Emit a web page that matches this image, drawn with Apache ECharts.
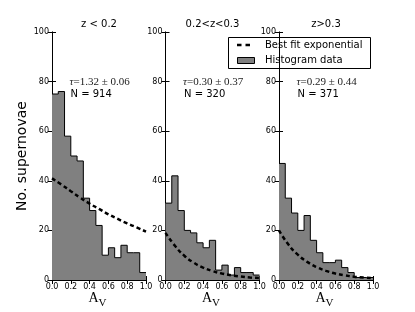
<!DOCTYPE html>
<html><head><meta charset="utf-8">
<script src="https://cdn.jsdelivr.net/npm/echarts@6/dist/echarts.min.js"></script>
<style>html,body{margin:0;padding:0;background:#fff}#c{width:415px;height:312px}</style>
</head><body><div id="c"></div>
<script>
// ---- data ----
const panelTitles = ['z < 0.2', '0.2<z<0.3', 'z>0.3'];
const tauValues = ['1.32', '0.30', '0.29'];
const tauErrors = ['0.06', '0.37', '0.44'];
const nLabels = ['N = 914', 'N = 320', 'N = 371'];
const legendNames = ['Best fit exponential', 'Histogram data'];
const binCount = 15;
const histLow  = [75, 76, 58, 50, 48, 33, 28, 22, 10, 13, 9, 14, 11, 11, 3];
const histMid  = [31, 42, 28, 20, 19, 15, 13, 16, 4, 6, 2, 5, 3, 3, 2];
const histHigh = [47, 33, 27, 20, 26, 16, 11, 7, 7, 8, 5, 3, 1, 1, 1];
const fitX     = [0, 0.1, 0.2, 0.3, 0.4, 0.5, 0.6, 0.7, 0.8, 0.9, 1.0];
const fitLow   = [41, 38.5, 35.8, 33.2, 30.8, 28.7, 26.5, 24.6, 22.8, 21.2, 19.5];
const fitMid   = [19, 13.8, 9.8, 7.0, 5.0, 3.6, 2.6, 1.9, 1.4, 1.0, 0.8];
const fitHigh  = [20, 14.3, 10.2, 7.3, 5.2, 3.7, 2.6, 1.9, 1.3, 1.0, 0.7];
const xTickLabels = ['0.0', '0.2', '0.4', '0.6', '0.8', '1.0'];
const yTickLabels = ['0', '20', '40', '60', '80', '100'];

const hists = [histLow, histMid, histHigh];
const fits = [fitLow, fitMid, fitHigh];

// ---- layout ----
const gridLefts = [52, 165.5, 279];
const gridTop = 32, gridW = 94, gridH = 248;
const SANS = 'DejaVu Sans';

function histPoints(vals) {
  const pts = vals.map((v, i) => [i / binCount, v]);
  pts.push([1, vals[vals.length - 1]]);
  return pts;
}

const grids = [], xAxes = [], yAxes = [], series = [], graphics = [];
for (let p = 0; p < 3; p++) {
  grids.push({ left: gridLefts[p], top: gridTop, width: gridW, height: gridH, containLabel: false, outerBoundsMode: 'none' });
  const axLine = { show: true, lineStyle: { color: '#000', width: 1 } };
  const tick = { show: true, inside: true, length: 4, lineStyle: { color: '#000', width: 1 } };
  xAxes.push({
    type: 'value', gridIndex: p, position: 'bottom', min: 0, max: 1, interval: 0.2,
    axisLine: axLine, axisTick: tick, splitLine: { show: false },
    axisLabel: { margin: 3, fontSize: 8, fontFamily: SANS, color: '#000',
      formatter: v => xTickLabels[Math.round(v / 0.2)] }
  });
  xAxes.push({
    type: 'value', gridIndex: p, position: 'top', min: 0, max: 1, interval: 0.2,
    axisLine: axLine, axisTick: tick, splitLine: { show: false }, axisLabel: { show: false }
  });
  yAxes.push({
    type: 'value', gridIndex: p, position: 'left', min: 0, max: 100, interval: 20,
    axisLine: { show: true, lineStyle: { color: '#555', width: 1 } }, axisTick: tick, splitLine: { show: false },
    axisLabel: { margin: 3, fontSize: 8, fontFamily: SANS, color: '#000',
      formatter: v => yTickLabels[Math.round(v / 20)] },
    name: p === 0 ? 'No. supernovae' : '', nameLocation: 'middle', nameGap: 22, nameRotate: 90,
    nameTextStyle: { fontSize: 14, fontFamily: SANS, color: '#000' }
  });
  yAxes.push({
    type: 'value', gridIndex: p, position: 'right', min: 0, max: 100, interval: 20,
    axisLine: axLine, axisTick: tick, splitLine: { show: false }, axisLabel: { show: false }
  });
  series.push({
    name: legendNames[1], type: 'line', step: 'end', xAxisIndex: 2 * p, yAxisIndex: 2 * p,
    data: histPoints(hists[p]), symbol: 'none', silent: true,
    lineStyle: { color: '#000', width: 1 }, itemStyle: { color: '#808080' },
    areaStyle: { color: '#808080', opacity: 1 }, z: 2
  });
  series.push({
    name: legendNames[0], type: 'line', smooth: true, xAxisIndex: 2 * p, yAxisIndex: 2 * p,
    data: fitX.map((x, i) => [x, fits[p][i]]), symbol: 'none', silent: true,
    lineStyle: { color: '#000', width: 2.5, type: [4, 3] }, itemStyle: { color: '#000' }, z: 3
  });
  const cx = gridLefts[p] + gridW / 2;
  graphics.push({
    type: 'text', x: cx, y: 24, z: 20,
    style: { text: panelTitles[p], font: '10px "DejaVu Sans"', fill: '#000', align: 'center', verticalAlign: 'middle' }
  });
  graphics.push({
    type: 'text', x: gridLefts[p] + 17.5, y: 82, z: 20,
    style: { text: '{t|τ}{r|=' + tauValues[p] + ' ± ' + tauErrors[p] + '}', verticalAlign: 'middle',
      rich: {
        t: { font: 'italic 11px "Liberation Serif"', fill: '#222' },
        r: { font: '11px "Liberation Serif"', fill: '#222' }
      } }
  });
  graphics.push({
    type: 'text', x: gridLefts[p] + 18.5, y: 94, z: 20,
    style: { text: nLabels[p], font: '10px "DejaVu Sans"', fill: '#000', verticalAlign: 'middle' }
  });
  // axis title A_V
  graphics.push({
    type: 'text', x: cx - 0.5, y: 298, z: 20,
    style: { text: 'A', font: '14px "Liberation Serif"', fill: '#000', align: 'right', verticalAlign: 'middle' }
  });
  graphics.push({
    type: 'text', x: cx - 0.5, y: 303.5, z: 20,
    style: { text: 'V', font: '11px "Liberation Serif"', fill: '#000', align: 'left', verticalAlign: 'middle' }
  });
}

// legend box (drawn)
graphics.push({
  type: 'group', z: 30, children: [
    { type: 'rect', shape: { x: 228.5, y: 37.5, width: 142, height: 31 }, style: { fill: '#fff', stroke: '#000', lineWidth: 1 } },
    { type: 'line', shape: { x1: 237, y1: 45, x2: 252, y2: 45 }, style: { stroke: '#000', lineWidth: 2.5, lineDash: [4.5, 4] } },
    { type: 'rect', shape: { x: 237.5, y: 57.5, width: 17, height: 6 }, style: { fill: '#808080', stroke: '#000', lineWidth: 1 } },
    { type: 'text', x: 265, y: 45, style: { text: legendNames[0], font: '10px "DejaVu Sans"', fill: '#000', verticalAlign: 'middle' } },
    { type: 'text', x: 265, y: 60.5, style: { text: legendNames[1], font: '10px "DejaVu Sans"', fill: '#000', verticalAlign: 'middle' } }
  ]
});

const chart = echarts.init(document.getElementById('c'), null, { renderer: 'canvas' });
chart.setOption({
  animation: false,
  backgroundColor: '#fff',
  grid: grids, xAxis: xAxes, yAxis: yAxes, series: series,
  graphic: graphics
});
</script></body></html>
